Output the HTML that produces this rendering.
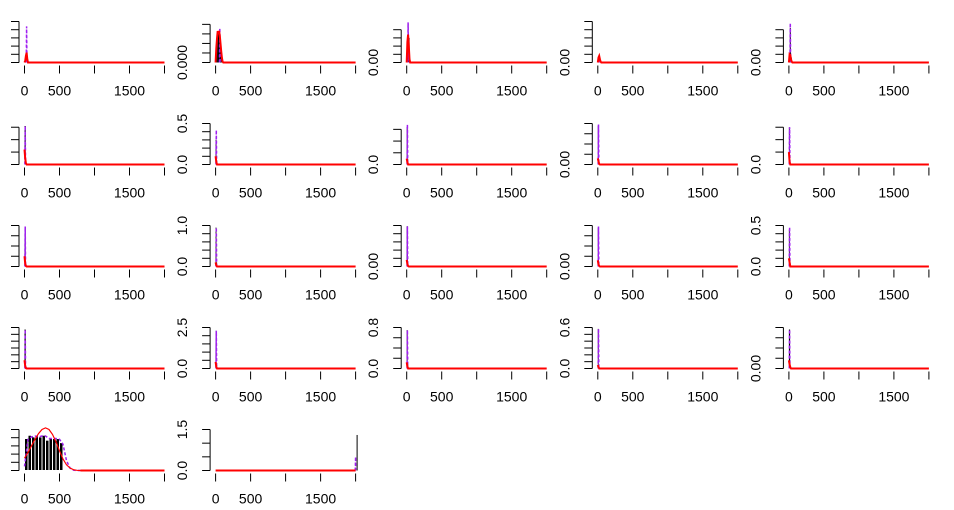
<!DOCTYPE html>
<html><head><meta charset="utf-8">
<style>
html,body{margin:0;padding:0;background:#fff;}
svg{display:block;font-family:"Liberation Sans",Arial,sans-serif;}
</style></head>
<body>
<svg id="chart" width="954" height="510" viewBox="0 0 954 510" xmlns="http://www.w3.org/2000/svg"></svg>
<script>
// ---- data ----
const xTicks = [0, 500, 1000, 1500, 2000];
const xTickLabels = ['0', '500', '', '1500', ''];
const panelYMax = [5,4.3,5,5,5, 3.3,0.5,0.35,4,0.33, 4,1.0,5,4,0.5, 6,2.5,0.8,0.6,4, 5,1.5];
const panelTicks = [
 [0,1,2,3,4,5],[0,1,2,3,4],[0,1,2,3,4],[0,1,2,3,4,5],[0,1,2,3,4],
 [0,1,2,3],[0,0.1,0.2,0.3,0.4,0.5],[0,0.1,0.2,0.3],[0,1,2,3,4],[0,0.1,0.2,0.3],
 [0,1,2,3,4],[0,0.2,0.4,0.6,0.8,1.0],[0,1,2,3,4,5],[0,1,2,3,4],[0,0.1,0.2,0.3,0.4,0.5],
 [0,1,2,3,4,5,6],[0,0.5,1,1.5,2,2.5],[0,0.2,0.4,0.6,0.8],[0,0.1,0.2,0.3,0.4,0.5,0.6],[0,1,2,3,4],
 [0,1,2,3,4,5],[0,0.5,1,1.5]
];
const panelLabels = [
 [],['0.000'],['0.00'],['0.00'],['0.00'],
 [],['0.0','','','','','0.5'],['0.0'],['0.00'],['0.0'],
 [],['0.0','','','','','1.0'],['0.00'],['0.00'],['0.0','','','','','0.5'],
 [],['0.0','','','','','2.5'],['0.0','','','','0.8'],['0.0','','','','','','0.6'],['0.00'],
 [],['0.0','','','1.5']
];
const panelBinW = [10,10,10,10,10, 10,10,10,10,10, 10,10,10,10,10, 10,10,10,10,10, 50,10];
const panelBins = [
 [0,0,1,1.2,0],[0.5,2,3,3.2,3,3.3,2.5,2,1,0.3],[0,2.5,3.5,3,0.5],[0,0.3,0.6,0.3],[0,0.5,1.2,0.6,0.2],
 [3.1,0.4,0.1],[0.3,0.05],[0.32,0.05],[3.8,0.5,0.1],[0.3,0.04],
 [3.8,0.4,0.1],[0.95,0.1],[4.9,0.4,0.1],[3.8,0.4],[0.45,0.1],
 [5.7,0.8,0.2],[2.3,0.2],[0.75,0.08],[0.58,0.03],[3.8,0.8,0.2],
 [3.9,4.3,4.1,4.3,4.1,4.3,3.7,3.9,3.9,3.9,3.4],[0]
];
const panelRedXs = [0,10,20,30,40,50,60,70,80,90,100,110,120];
const panelRed = [
 [0,0.2,0.8,1.2,0.4,0,0,0,0,0,0,0,0],[0,1.5,2.5,3.3,3,3.3,2.8,2,1.2,0.5,0.1,0,0],[0,2.5,3.4,2,0.4,0,0,0,0,0,0,0,0],[0,0.6,0.8,0.4,0.1,0,0,0,0,0,0,0,0],[0,1.0,0.9,0.4,0.1,0,0,0,0,0,0,0,0],
 [1.2,0.5,0.1,0,0,0,0,0,0,0,0,0,0],[0.1,0.03,0,0,0,0,0,0,0,0,0,0,0],[0.05,0.02,0,0,0,0,0,0,0,0,0,0,0],[0.6,0.3,0.05,0,0,0,0,0,0,0,0,0,0],[0.1,0.02,0,0,0,0,0,0,0,0,0,0,0],
 [1.0,0.3,0.05,0,0,0,0,0,0,0,0,0,0],[0.1,0.03,0,0,0,0,0,0,0,0,0,0,0],[0.8,0.3,0.05,0,0,0,0,0,0,0,0,0,0],[0.6,0.2,0.05,0,0,0,0,0,0,0,0,0,0],[0.1,0.05,0,0,0,0,0,0,0,0,0,0,0],
 [1.2,0.4,0.05,0,0,0,0,0,0,0,0,0,0],[0.4,0.1,0,0,0,0,0,0,0,0,0,0,0],[0.12,0.04,0,0,0,0,0,0,0,0,0,0,0],[0.05,0.02,0,0,0,0,0,0,0,0,0,0,0],[0.8,0.4,0.1,0,0,0,0,0,0,0,0,0,0],
 [1.5,2.2,3,3.8,4.5,5,5.2,5,4.4,3.5,2.4,1.4,0.7],[0,0,0,0,0,0,0,0,0,0,0,0,0]
];
const panel21RedXs = [0,50,100,150,200,250,300,350,400,450,500,550,600,650,700,750,800];
const panel21Red = [1.5,2.2,3,3.8,4.5,5,5.2,5,4.4,3.5,2.4,1.4,0.7,0.3,0.1,0.02,0];
const panel21Purple = [0.5,3.8,4.1,4.2,4.1,4.2,4.2,3.9,3.9,3.9,3.8,3.2,1.2,0.3,0.05,0,0];
const panelSpikeX = [30,60,20,20,20, 10,10,10,10,10, 10,10,10,10,10, 10,10,10,10,10, 0,2000];
const panelSpike = [4.4,3.6,4.9,0.8,4.8, 3.1,0.42,0.34,3.9,0.3, 3.9,0.95,4.9,3.9,0.48, 5.7,2.3,0.75,0.58,3.8, 0,0.5];
const panelBlackLine = [0,0,4.7,0,4.2, 3.1,0,0,3.9,0, 3.9,0,4.9,3.9,0, 5.7,0,0,0,3.8, 0,1.3];

// ---- drawing ----
const svg = document.getElementById('chart');
const NS = 'http://www.w3.org/2000/svg';
function mk(tag, attrs, parent){
  const e = document.createElementNS(NS, tag);
  for (const k in attrs) e.setAttribute(k, attrs[k]);
  parent.appendChild(e);
  return e;
}
for (let i = 0; i < panelYMax.length; i++) {
  const row = Math.floor(i/5), col = i%5;
  const x0 = 24.5 + col*191.1, base = 62.5 + row*102;
  const X = v => x0 + v*0.07;
  const Y = v => base - v/panelYMax[i]*41;
  const g = mk('g', {}, svg);
  
  
  xTicks.forEach((t, k) => {
    const tk = mk('line', {x1:X(t), x2:X(t), y1:base+3, y2:base+11, stroke:'#000', 'stroke-width':1}, g);
    
    
    if (xTickLabels[k]) {
      const tx = mk('text', {x:X(t), y:base+33, 'font-size':14, 'text-anchor':'middle', fill:'#000'}, g);
      
      
      tx.textContent = xTickLabels[k];
    }
  });
  const ax = x0 - 5.5;
  const ticks = panelTicks[i];
  const yl = mk('line', {x1:ax, x2:ax, y1:Y(ticks[0]), y2:Y(ticks[ticks.length-1]), stroke:'#000', 'stroke-width':1}, g);
  
  
  ticks.forEach((t, k) => {
    const tk = mk('line', {x1:ax-8, x2:ax, y1:Y(t), y2:Y(t), stroke:'#000', 'stroke-width':1}, g);
    
    
    const lab = panelLabels[i][k];
    if (lab) {
      const lx = ax - 23, ly = Y(t);
      const tx = mk('text', {x:lx, y:ly, 'font-size':14, 'text-anchor':'middle', fill:'#000', transform:'rotate(-90 '+lx+' '+ly+')'}, g);
      
      
      tx.textContent = lab;
    }
  });
  const bw = panelBinW[i];
  panelBins[i].forEach((v, k) => {
    if (v <= 0) return;
    const r = mk('rect', {x:X(k*bw), y:Y(v), width:Math.max(X(bw)-X(0),0.8), height:base-Y(v), fill:'#000', stroke:'#fff', 'stroke-width': bw>=50?1:0}, g);
    
    
  });
  if (panelBlackLine[i] > 0) {
    const bx = X(panelSpikeX[i]) + (i===21 ? 1.5 : 0);
    const bl = mk('line', {x1:bx, x2:bx, y1:base, y2:Y(panelBlackLine[i]), stroke:'#000', 'stroke-width':1}, g);
    
    
  }
  let pp;
  if (i === 20) {
    pp = panel21RedXs.map((x, k) => X(x)+','+Y(panel21Purple[k])).join(' ');
  } else {
    const sx = panelSpikeX[i];
    pp = [X(Math.max(sx-5,0))+','+base, X(sx)+','+Y(panelSpike[i]), X(Math.min(sx+5,2000))+','+base].join(' ');
  }
  const pl = mk('polyline', {points:pp, fill:'none', stroke:'#a020f0', 'stroke-width':1.5, 'stroke-dasharray':'3,2'}, g);
  
  
  let rp;
  if (i === 20) {
    rp = panel21RedXs.map((x, k) => X(x)+','+Y(panel21Red[k]));
  } else {
    rp = panelRedXs.map((x, k) => X(x)+','+Y(panelRed[i][k]));
  }
  rp.push(X(2000)+','+base);
  const rl = mk('polyline', {points:rp.join(' '), fill:'none', stroke:'#ff0000', 'stroke-width': i===20?1.2:2}, g);
  
  
  if (i === 20) {
    const fl = mk('line', {x1:X(800), x2:X(2000), y1:base, y2:base, stroke:'#ff0000', 'stroke-width':2}, g);
    
    
  }
}
</script>
</body></html>
